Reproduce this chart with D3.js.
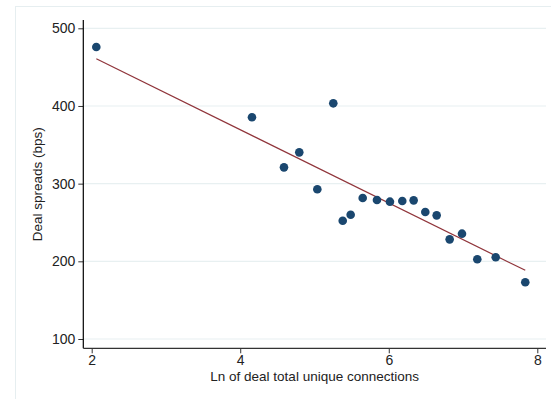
<!DOCTYPE html>
<html><head><meta charset="utf-8">
<script src="https://cdn.jsdelivr.net/npm/d3@7"></script>
<style>body{margin:0;background:#fff;} svg{display:block;font-family:"Liberation Sans",Arial,sans-serif;}</style>
</head><body><svg id="c" width="551" height="399"></svg>
<script>
const xVals = [2.062, 4.158, 5.253, 4.795, 4.589, 5.038, 5.380, 5.487, 5.649, 5.841, 6.016, 6.182, 6.335, 6.492, 6.645, 6.820, 6.986, 7.192, 7.440, 7.838];
const yVals = [475.9, 385.4, 403.4, 340.3, 321.0, 292.7, 252.3, 260.0, 281.5, 278.9, 276.8, 277.6, 278.5, 263.5, 259.2, 228.3, 235.6, 202.6, 205.2, 173.0];
const fitX = [2.062, 7.838];
const fitY = [460.9, 188.4];
const xTicks = [2, 4, 6, 8];
const yTicks = [100, 200, 300, 400, 500];
const xTitle = "Ln of deal total unique connections";
const yTitle = "Deal spreads (bps)";

const svg = d3.select("#c");
const L = 83.3, R = 546, T = 20, B = 348.3;
const x = d3.scaleLinear().domain([2, 8]).range([91.7, 537.3]);
const y = d3.scaleLinear().domain([100, 500]).range([339, 28.3]);

svg.append("rect").attr("x", 15.5).attr("y", 6.5).attr("width", 600).attr("height", 500)
  .attr("fill", "#fff").attr("stroke", "#e6eef0").attr("stroke-width", 1);

// gridlines
svg.append("g").selectAll("line").data(yTicks).join("line")
  .attr("x1", L).attr("x2", R).attr("y1", d => y(d)).attr("y2", d => y(d))
  .attr("stroke", "#e8f0f1").attr("stroke-width", 1.2);

// axes
const yAxis = d3.axisLeft(y).tickValues(yTicks).tickFormat(d3.format("d")).tickSize(5).tickPadding(3);
const gy = svg.append("g").attr("transform", `translate(${L},0)`).call(yAxis);
gy.select(".domain").remove();
gy.append("line").attr("x1", 0).attr("x2", 0).attr("y1", T).attr("y2", B).attr("stroke", "#000").attr("stroke-width", 1.2);
gy.selectAll("text").attr("font-size", "14px").attr("fill", "#222").attr("font-family", "Liberation Sans, Arial, sans-serif");
gy.selectAll(".tick line").attr("stroke", "#333");

const xAxis = d3.axisBottom(x).tickValues(xTicks).tickFormat(d3.format("d")).tickSize(5).tickPadding(2);
const gx = svg.append("g").attr("transform", `translate(0,${B})`).call(xAxis);
gx.select(".domain").remove();
gx.append("line").attr("x1", L).attr("x2", R).attr("y1", 0).attr("y2", 0).attr("stroke", "#333").attr("stroke-width", 1.2);
gx.selectAll("text").attr("font-size", "14px").attr("fill", "#222").attr("font-family", "Liberation Sans, Arial, sans-serif");
gx.selectAll(".tick line").attr("stroke", "#333");

// titles
svg.append("text").attr("x", (L + R) / 2).attr("y", 381).attr("text-anchor", "middle")
  .attr("font-size", "13.5px").attr("fill", "#222").text(xTitle);
svg.append("text").attr("transform", `translate(42,${(T + B) / 2}) rotate(-90)`).attr("text-anchor", "middle")
  .attr("font-size", "13.5px").attr("fill", "#222").text(yTitle);

// fit line
const line = d3.line().x(d => x(d[0])).y(d => y(d[1]));
svg.append("path").datum(fitX.map((v, i) => [v, fitY[i]])).attr("d", line)
  .attr("fill", "none").attr("stroke", "#90353b").attr("stroke-width", 1.2);

// points
svg.append("g").selectAll("circle").data(xVals.map((v, i) => [v, yVals[i]])).join("circle")
  .attr("cx", d => x(d[0])).attr("cy", d => y(d[1])).attr("r", 4.3).attr("fill", "#1a476f");
</script></body></html>
